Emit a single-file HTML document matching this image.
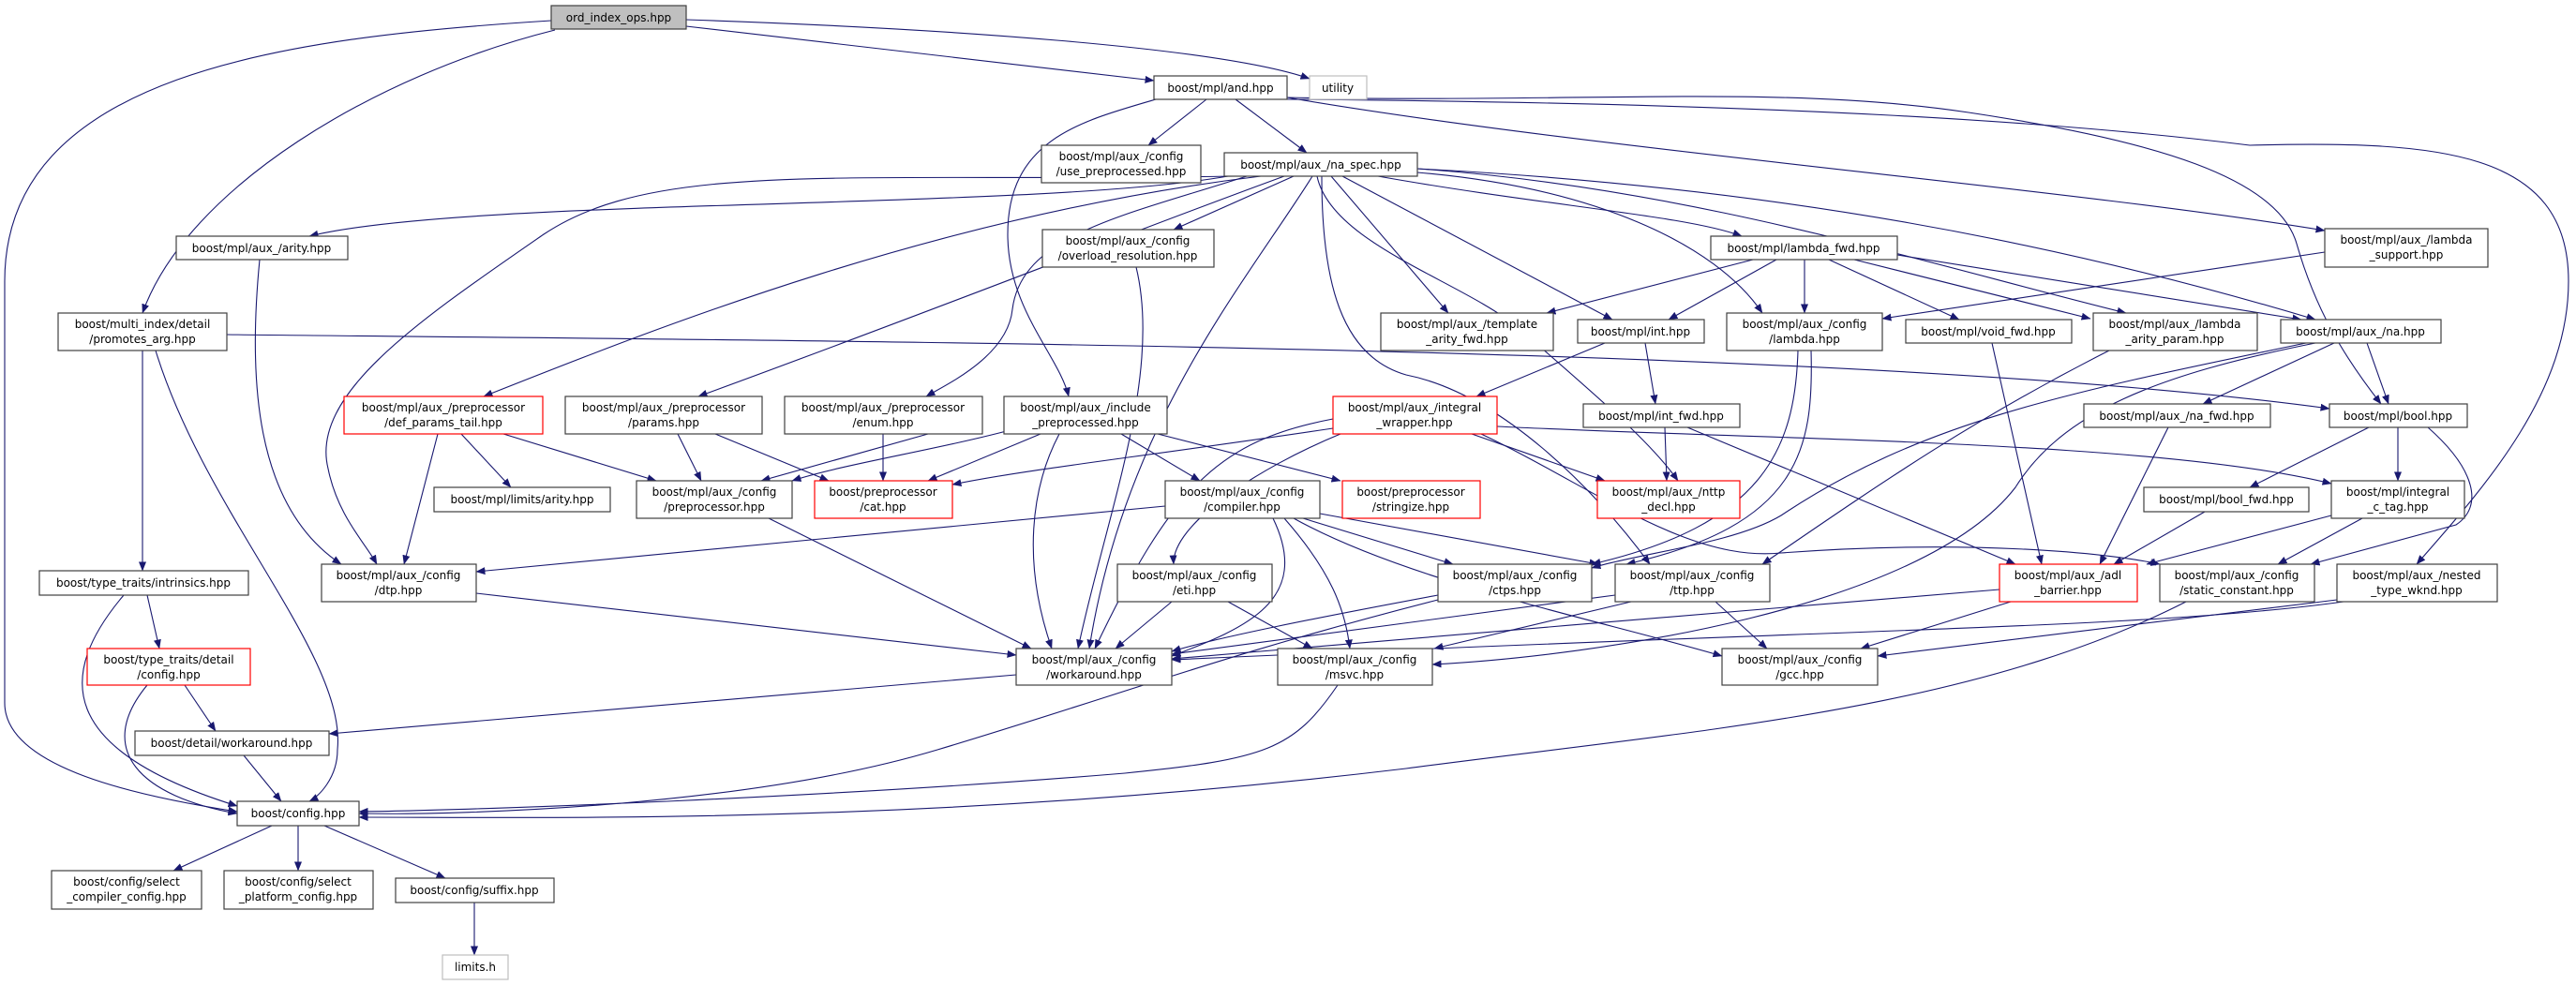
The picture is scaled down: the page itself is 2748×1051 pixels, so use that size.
<!DOCTYPE html>
<html><head><meta charset="utf-8"><style>
html,body{margin:0;padding:0;background:#fff}
svg{display:block}
text{font-family:"DejaVu Sans","Liberation Sans",sans-serif;font-size:12px;fill:#000;text-anchor:middle}
.e{fill:none;stroke:#191970;stroke-width:1.1}
.n{fill:#fff;stroke:#404040;stroke-width:1.2}
.r{fill:#fff;stroke:#ff0000;stroke-width:1.2}
.g{fill:#fff;stroke:#bfbfbf;stroke-width:1.2}
</style></head><body>
<svg width="2748" height="1051" viewBox="0 0 2748 1051" xmlns="http://www.w3.org/2000/svg">
<defs><marker id="a" markerWidth="10" markerHeight="8" refX="9.5" refY="4" orient="auto" markerUnits="userSpaceOnUse"><path d="M0,0 L10,4 L0,8 z" fill="#191970"/></marker></defs>
<g class="e" marker-end="url(#a)">
<path d="M732,21 C1000,30 1300,50 1397,84"/>
<path d="M732,28 L1231,86"/>
<path d="M592,32 C400,80 200,200 152,334"/>
<path d="M588,22 C300,40 5,80 5,300 L5,750 C5,820 150,850 253,866"/>
<path d="M1287,106 L1225,155"/>
<path d="M1318,106 L1394,163"/>
<path d="M1233,106 C1150,130 1075,150 1075,250 C1075,330 1130,380 1140,423"/>
<path d="M1373,104 C1700,160 2200,200 2480,246"/>
<path d="M1373,104 C1700,110 1900,90 2100,120 C2300,150 2430,190 2450,260 C2470,330 2500,380 2540,431"/>
<path d="M1373,106 C1900,110 2200,130 2400,155 C2600,150 2740,160 2740,300 C2740,420 2650,520 2578,602"/>
<path d="M1310,188 C1100,225 500,210 330,252"/>
<path d="M1318,188 C900,195 700,170 580,250 C450,340 330,420 350,500 C360,550 390,580 402,602"/>
<path d="M277,277 C265,400 270,540 364,602"/>
<path d="M1380,188 L1252,245"/>
<path d="M1345,188 C1000,230 700,350 516,423"/>
<path d="M1370,188 C1200,250 1000,330 745,423"/>
<path d="M1330,188 C1200,230 1090,250 1080,330 C1075,380 1010,410 988,423"/>
<path d="M1420,188 L1545,334"/>
<path d="M1432,188 L1720,341"/>
<path d="M1470,188 C1650,220 1800,230 1858,252"/>
<path d="M1512,184 C1700,200 1830,260 1880,334"/>
<path d="M1512,180 C1800,200 2050,280 2268,334"/>
<path d="M1512,180 C1900,200 2200,260 2470,341"/>
<path d="M1405,188 C1420,260 1560,300 1620,350 C1700,420 1760,470 1790,513"/>
<path d="M1410,188 C1410,300 1430,380 1500,400 C1600,420 1700,520 1760,602"/>
<path d="M1400,188 C1330,300 1200,450 1162,692"/>
<path d="M242,357 C1000,365 2000,370 2485,436"/>
<path d="M152,374 L152,609"/>
<path d="M166,374 C220,550 370,700 360,800 C360,830 340,850 330,855"/>
<path d="M1212,285 C1240,400 1180,550 1150,692"/>
<path d="M467,463 L431,602"/>
<path d="M492,463 L545,520"/>
<path d="M537,463 L700,513"/>
<path d="M723,463 L748,513"/>
<path d="M763,463 L884,513"/>
<path d="M990,463 L812,513"/>
<path d="M942,463 L942,513"/>
<path d="M1085,457 C1000,480 900,495 845,513"/>
<path d="M1110,463 L990,513"/>
<path d="M1196,463 L1280,513"/>
<path d="M1235,463 L1430,513"/>
<path d="M1130,463 C1100,520 1090,600 1122,692"/>
<path d="M1422,447 C1300,470 1250,520 1168,692"/>
<path d="M1422,457 C1200,490 1100,500 1016,517"/>
<path d="M1570,463 L1712,513"/>
<path d="M1597,455 C1900,470 2300,470 2487,516"/>
<path d="M1580,463 C1700,520 1800,600 1900,590 C2100,575 2250,590 2304,602"/>
<path d="M1430,463 C1340,500 1250,560 1252,602"/>
<path d="M1712,366 L1575,423"/>
<path d="M1755,366 L1766,431"/>
<path d="M1776,456 L1778,513"/>
<path d="M1800,456 L2150,602"/>
<path d="M1870,277 L1650,334"/>
<path d="M1895,277 L1780,341"/>
<path d="M1925,277 L1925,334"/>
<path d="M1951,277 L2090,341"/>
<path d="M1978,277 L2230,340"/>
<path d="M2024,272 L2455,341"/>
<path d="M2480,269 L2008,340"/>
<path d="M1918,374 C1915,480 1880,560 1698,602"/>
<path d="M1932,374 C1935,480 1920,560 1735,602"/>
<path d="M2125,366 L2178,602"/>
<path d="M2250,374 C2100,450 2000,520 1880,602"/>
<path d="M2490,366 L2350,431"/>
<path d="M2525,366 L2548,431"/>
<path d="M2460,366 C2200,420 2050,450 1900,550 C1850,580 1750,590 1698,606"/>
<path d="M2470,366 C2300,400 2200,440 2150,520 C2050,650 1700,700 1528,709"/>
<path d="M2313,456 L2240,602"/>
<path d="M2527,456 L2400,520"/>
<path d="M2558,456 L2558,513"/>
<path d="M2590,456 C2640,500 2650,540 2620,560 L2465,602"/>
<path d="M2352,546 L2255,602"/>
<path d="M2487,550 L2290,602"/>
<path d="M2520,553 L2430,602"/>
<path d="M820,553 L1100,692"/>
<path d="M1243,540 L508,610"/>
<path d="M1358,553 C1400,640 1330,670 1250,700"/>
<path d="M1370,553 C1420,610 1435,650 1440,692"/>
<path d="M1380,553 C1500,620 1700,660 1837,700"/>
<path d="M1390,553 L1550,602"/>
<path d="M1408,548 L1705,602"/>
<path d="M1250,642 L1190,692"/>
<path d="M1310,642 L1400,692"/>
<path d="M1534,635 C1400,660 1300,680 1250,695"/>
<path d="M1534,640 C1300,700 1200,740 1000,800 C800,860 500,870 383,868"/>
<path d="M1723,635 L1250,698"/>
<path d="M1740,642 L1530,692"/>
<path d="M1830,642 L1885,692"/>
<path d="M2332,642 C2100,760 1800,780 1500,820 C1000,880 600,872 383,872"/>
<path d="M1427,731 C1380,800 1350,810 1200,825 C900,850 500,865 383,866"/>
<path d="M2145,642 L1985,692"/>
<path d="M2133,629 C1900,650 1500,680 1250,703"/>
<path d="M2493,640 L2003,700"/>
<path d="M2500,642 C2300,670 2000,670 1250,704"/>
<path d="M508,633 L1084,699"/>
<path d="M1084,720 L351,783"/>
<path d="M157,635 L170,692"/>
<path d="M132,635 C60,720 60,800 253,860"/>
<path d="M197,731 L230,780"/>
<path d="M157,731 C100,800 150,850 253,868"/>
<path d="M260,806 L300,855"/>
<path d="M290,881 L185,929"/>
<path d="M318,881 L318,929"/>
<path d="M346,881 L475,937"/>
<path d="M506,963 L506,1019"/>
</g>
<g>
<rect x="588" y="6" width="144" height="25" fill="#bfbfbf" stroke="#404040" stroke-width="1.2"/><text x="660" y="23">ord_index_ops.hpp</text>
<rect class="n" x="1231" y="81" width="142" height="25"/><text x="1302" y="98">boost/mpl/and.hpp</text>
<rect class="g" x="1397" y="81" width="61" height="25"/><text x="1427" y="98" fill="#000">utility</text>
<rect class="n" x="1111" y="155" width="170" height="40"/><text x="1196" y="171">boost/mpl/aux_/config</text><text x="1196" y="187">/use_preprocessed.hpp</text>
<rect class="n" x="1306" y="163" width="206" height="25"/><text x="1409" y="180">boost/mpl/aux_/na_spec.hpp</text>
<rect class="n" x="1112" y="245" width="183" height="40"/><text x="1203" y="261">boost/mpl/aux_/config</text><text x="1203" y="277">/overload_resolution.hpp</text>
<rect class="n" x="188" y="252" width="183" height="25"/><text x="279" y="269">boost/mpl/aux_/arity.hpp</text>
<rect class="n" x="1825" y="252" width="199" height="25"/><text x="1924" y="269">boost/mpl/lambda_fwd.hpp</text>
<rect class="n" x="2480" y="244" width="174" height="41"/><text x="2567" y="260">boost/mpl/aux_/lambda</text><text x="2567" y="276">_support.hpp</text>
<rect class="n" x="62" y="334" width="180" height="40"/><text x="152" y="350">boost/multi_index/detail</text><text x="152" y="366">/promotes_arg.hpp</text>
<rect class="n" x="1473" y="334" width="184" height="40"/><text x="1565" y="350">boost/mpl/aux_/template</text><text x="1565" y="366">_arity_fwd.hpp</text>
<rect class="n" x="1683" y="341" width="135" height="25"/><text x="1750" y="358">boost/mpl/int.hpp</text>
<rect class="n" x="1842" y="334" width="166" height="40"/><text x="1925" y="350">boost/mpl/aux_/config</text><text x="1925" y="366">/lambda.hpp</text>
<rect class="n" x="2033" y="341" width="177" height="25"/><text x="2121" y="358">boost/mpl/void_fwd.hpp</text>
<rect class="n" x="2233" y="334" width="175" height="40"/><text x="2320" y="350">boost/mpl/aux_/lambda</text><text x="2320" y="366">_arity_param.hpp</text>
<rect class="n" x="2433" y="341" width="171" height="25"/><text x="2518" y="358">boost/mpl/aux_/na.hpp</text>
<rect class="r" x="367" y="423" width="212" height="40"/><text x="473" y="439">boost/mpl/aux_/preprocessor</text><text x="473" y="455">/def_params_tail.hpp</text>
<rect class="n" x="603" y="423" width="210" height="40"/><text x="708" y="439">boost/mpl/aux_/preprocessor</text><text x="708" y="455">/params.hpp</text>
<rect class="n" x="837" y="423" width="211" height="40"/><text x="942" y="439">boost/mpl/aux_/preprocessor</text><text x="942" y="455">/enum.hpp</text>
<rect class="n" x="1071" y="423" width="174" height="40"/><text x="1158" y="439">boost/mpl/aux_/include</text><text x="1158" y="455">_preprocessed.hpp</text>
<rect class="r" x="1422" y="423" width="175" height="40"/><text x="1509" y="439">boost/mpl/aux_/integral</text><text x="1509" y="455">_wrapper.hpp</text>
<rect class="n" x="1689" y="431" width="167" height="25"/><text x="1772" y="448">boost/mpl/int_fwd.hpp</text>
<rect class="n" x="2223" y="431" width="199" height="25"/><text x="2322" y="448">boost/mpl/aux_/na_fwd.hpp</text>
<rect class="n" x="2485" y="431" width="147" height="25"/><text x="2558" y="448">boost/mpl/bool.hpp</text>
<rect class="n" x="463" y="520" width="188" height="26"/><text x="557" y="537">boost/mpl/limits/arity.hpp</text>
<rect class="n" x="679" y="513" width="166" height="40"/><text x="762" y="529">boost/mpl/aux_/config</text><text x="762" y="545">/preprocessor.hpp</text>
<rect class="r" x="869" y="513" width="147" height="40"/><text x="942" y="529">boost/preprocessor</text><text x="942" y="545">/cat.hpp</text>
<rect class="n" x="1243" y="513" width="165" height="40"/><text x="1325" y="529">boost/mpl/aux_/config</text><text x="1325" y="545">/compiler.hpp</text>
<rect class="r" x="1432" y="513" width="147" height="40"/><text x="1505" y="529">boost/preprocessor</text><text x="1505" y="545">/stringize.hpp</text>
<rect class="r" x="1704" y="513" width="152" height="40"/><text x="1780" y="529">boost/mpl/aux_/nttp</text><text x="1780" y="545">_decl.hpp</text>
<rect class="n" x="2287" y="520" width="176" height="26"/><text x="2375" y="537">boost/mpl/bool_fwd.hpp</text>
<rect class="n" x="2487" y="513" width="142" height="40"/><text x="2558" y="529">boost/mpl/integral</text><text x="2558" y="545">_c_tag.hpp</text>
<rect class="n" x="42" y="609" width="223" height="26"/><text x="153" y="626">boost/type_traits/intrinsics.hpp</text>
<rect class="n" x="343" y="602" width="165" height="40"/><text x="425" y="618">boost/mpl/aux_/config</text><text x="425" y="634">/dtp.hpp</text>
<rect class="n" x="1192" y="602" width="165" height="40"/><text x="1274" y="618">boost/mpl/aux_/config</text><text x="1274" y="634">/eti.hpp</text>
<rect class="n" x="1534" y="602" width="164" height="40"/><text x="1616" y="618">boost/mpl/aux_/config</text><text x="1616" y="634">/ctps.hpp</text>
<rect class="n" x="1723" y="602" width="165" height="40"/><text x="1805" y="618">boost/mpl/aux_/config</text><text x="1805" y="634">/ttp.hpp</text>
<rect class="r" x="2133" y="602" width="147" height="40"/><text x="2206" y="618">boost/mpl/aux_/adl</text><text x="2206" y="634">_barrier.hpp</text>
<rect class="n" x="2304" y="602" width="165" height="40"/><text x="2386" y="618">boost/mpl/aux_/config</text><text x="2386" y="634">/static_constant.hpp</text>
<rect class="n" x="2493" y="602" width="171" height="40"/><text x="2578" y="618">boost/mpl/aux_/nested</text><text x="2578" y="634">_type_wknd.hpp</text>
<rect class="r" x="93" y="692" width="174" height="39"/><text x="180" y="708">boost/type_traits/detail</text><text x="180" y="724">/config.hpp</text>
<rect class="n" x="1084" y="692" width="166" height="39"/><text x="1167" y="708">boost/mpl/aux_/config</text><text x="1167" y="724">/workaround.hpp</text>
<rect class="n" x="1363" y="692" width="165" height="39"/><text x="1445" y="708">boost/mpl/aux_/config</text><text x="1445" y="724">/msvc.hpp</text>
<rect class="n" x="1837" y="692" width="166" height="39"/><text x="1920" y="708">boost/mpl/aux_/config</text><text x="1920" y="724">/gcc.hpp</text>
<rect class="n" x="144" y="780" width="207" height="26"/><text x="247" y="797">boost/detail/workaround.hpp</text>
<rect class="n" x="253" y="855" width="130" height="26"/><text x="318" y="872">boost/config.hpp</text>
<rect class="n" x="55" y="929" width="160" height="41"/><text x="135" y="945">boost/config/select</text><text x="135" y="961">_compiler_config.hpp</text>
<rect class="n" x="239" y="929" width="159" height="41"/><text x="318" y="945">boost/config/select</text><text x="318" y="961">_platform_config.hpp</text>
<rect class="n" x="422" y="937" width="169" height="26"/><text x="506" y="954">boost/config/suffix.hpp</text>
<rect class="g" x="472" y="1019" width="70" height="26"/><text x="507" y="1036">limits.h</text>
</g>
</svg>
</body></html>
